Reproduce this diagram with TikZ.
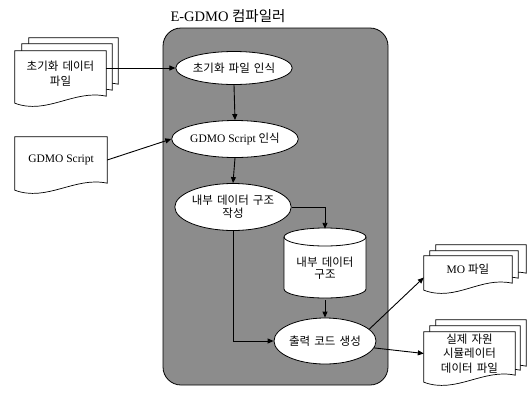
\documentclass[tikz,border=0pt]{standalone}
\usepackage{fontspec}
\setmainfont{Liberation Serif}
\newfontfamily\kr{Noto Sans CJK KR}[WordSpace=1.6]
\usetikzlibrary{shapes.geometric,arrows.meta,calc}
\newcommand\K[1]{{\kr #1}}
\tikzset{
  docline/.style={draw=black,fill=white,line width=0.7pt},
  docbox/.style={inner sep=0pt,align=center,font=\fontsize{11.5}{14.5}\selectfont},
  proc/.style={ellipse,draw=black,fill=white,line width=0.8pt,inner sep=0pt,align=center,font=\fontsize{11.5}{13}\selectfont},
  flow/.style={line width=0.9pt,-{Triangle[length=6pt,width=5pt]}},
  compbox/.style={draw=black,fill=black!45,line width=0.8pt,rounded corners=18pt,inner sep=0pt}
}
\newcommand\docshape[1]{\filldraw[docline] (#1.north west) -- (#1.north east) -- (#1.south east) .. controls +(-32,-7) and +(32,12) .. ([yshift=-7pt]#1.south west) -- cycle;}
\begin{document}
\begin{tikzpicture}[x=1pt,y=-1pt]
\useasboundingbox (0,0) rectangle (530,394);
% compiler box
\node[compbox,minimum width=225pt,minimum height=357pt] (comp) at (275.5,206.5) {};
\node[font=\fontsize{14.5}{16}\selectfont] (title) at (228,16) {E-GDMO \K{컴파일러}};
% init data file stack
\node[docbox,minimum width=89pt,minimum height=46pt] (initb) at (73.5,61) {};
\docshape{initb}
\node[docbox,minimum width=90pt,minimum height=46pt] (initm) at (67,67) {};
\docshape{initm}
\node[docbox,minimum width=91pt,minimum height=45pt] (initf) at (60.5,73.5) {};
\docshape{initf}
\node[docbox] at (initf.center) {\K{초기화 데이터}\\\K{파일}};
% GDMO script doc
\node[docbox,minimum width=92pt,minimum height=46pt] (gdmo) at (61,160) {};
\docshape{gdmo}
\node[docbox] at (gdmo.center) {GDMO Script};
% MO file stack
\node[docbox,minimum width=90pt,minimum height=28pt] (mob) at (481,259) {};
\docshape{mob}
\node[docbox,minimum width=88pt,minimum height=27pt] (mom) at (474,264.5) {};
\docshape{mom}
\node[docbox,minimum width=88pt,minimum height=27pt] (mof) at (468,269.5) {};
\docshape{mof}
\node[docbox] at (mof.center) {\raisebox{-5pt}{MO \K{파일}}};
% simulator data stack
\node[docbox,minimum width=90pt,minimum height=46pt] (simb) at (481,343) {};
\docshape{simb}
\node[docbox,minimum width=90pt,minimum height=44pt] (simm) at (475,348) {};
\docshape{simm}
\node[docbox,minimum width=91pt,minimum height=43pt] (simf) at (469.5,353.5) {};
\docshape{simf}
\node[docbox] at (simf.center) {\K{실제 자원}\\\K{시뮬레이터}\\\K{데이터 파일}};
% processes
\node[proc,minimum width=105pt,minimum height=33pt] (e1) at (234,68) {\K{초기화 파일 인식}};
\node[proc,minimum width=112pt,minimum height=37pt] (e2) at (235,139) {GDMO Script \K{인식}};
\node[proc,minimum width=105pt,minimum height=47pt] (e3) at (233,207) {\K{내부 데이터 구조}\\\K{작성}};
\node[proc,minimum width=102pt,minimum height=46pt] (e4) at (325,341) {\K{출력 코드 생성}};
% cylinder
\node[inner sep=0pt,minimum width=82pt,minimum height=70pt] (cyl) at (325,263) {};
\filldraw[docline,line width=0.8pt] (284,237) -- (284,289) arc[start angle=180,end angle=0,x radius=41,y radius=9] -- (366,237) arc[start angle=0,end angle=-180,x radius=41,y radius=9] -- cycle;
\draw[line width=0.8pt] (284,237) arc[start angle=180,end angle=0,x radius=41,y radius=9];
\node[align=center,font=\fontsize{11.5}{12.5}\selectfont] at (325,268) {\K{내부 데이터}\\\K{구조}};
% connectors
\draw[flow] (initf.east |- e1.west) -- (e1.west);
\draw[flow] (gdmo.east) -- (e2.west);
\draw[flow] (e1.south) -- (e2.north);
\draw[flow] (e2.south) -- (e3.north);
\draw[flow] (e3.east) -| ([yshift=-1pt]cyl.north);
\draw[flow] (e3.south) |- (e4.west);
\draw[flow] ([yshift=-2pt]cyl.south) -- (e4.north);
\draw[flow] (e4.15) -- ([yshift=-8pt]mof.west);
\draw[flow] (e4.-8) -- (simf.west);
\end{tikzpicture}
\end{document}
